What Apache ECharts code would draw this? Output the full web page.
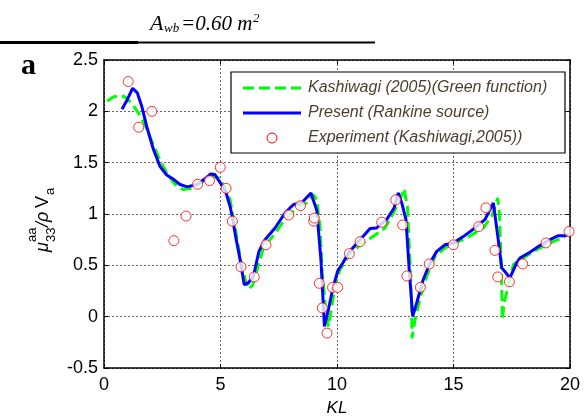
<!DOCTYPE html>
<html>
<head>
<meta charset="utf-8">
<script src="https://cdn.jsdelivr.net/npm/echarts@6/dist/echarts.min.js"></script>
<style>
  html, body { margin: 0; padding: 0; background: #fff; }
  #chart { width: 584px; height: 419px; }
</style>
</head>
<body>
<div id="chart"></div>
<script>
// Heave added mass vs KL
const kashiwagiKL = [0.14,0.40,0.69,0.90,1.19,1.47,1.76,2.05,2.33,2.69,3.05,3.40,3.83,4.26,4.62,4.91,5.19,5.41,5.55,5.74,5.94,6.19,6.37,6.55,6.84,7.34,7.77,8.34,8.70,8.98,9.13,9.27,9.37,9.53,9.63,9.77,9.91,10.13,10.49,10.99,11.56,12.06,12.42,12.70,12.88,13.02,13.13,13.20,13.22,13.35,13.59,13.85,14.21,14.64,14.99,15.57,16.28,16.64,16.90,16.97,17.04,17.10,17.17,17.35,17.57,18.00,18.57,19.14,19.79];
const kashiwagiMu = [2.10,2.14,2.154,2.14,2.08,1.985,1.87,1.71,1.56,1.40,1.287,1.238,1.254,1.319,1.374,1.352,1.27,1.14,0.962,0.718,0.458,0.27,0.302,0.44,0.67,0.81,0.952,1.075,1.108,1.19,1.14,0.88,0.426,0.036,-0.095,0.085,0.30,0.458,0.588,0.70,0.783,0.864,1.01,1.14,1.245,1.075,0.556,0.10,-0.21,-0.03,0.198,0.393,0.588,0.67,0.71,0.767,0.864,0.978,1.157,1.01,0.556,-0.03,0.133,0.295,0.507,0.572,0.653,0.718,0.777];

const presentKL = [0.77,0.97,1.23,1.43,1.62,1.83,2.12,2.40,2.69,3.00,3.26,3.58,3.98,4.29,4.58,4.76,5.03,5.24,5.41,5.50,5.65,5.84,6.02,6.19,6.41,6.65,6.91,7.34,7.77,8.12,8.51,8.88,9.13,9.31,9.46,9.63,9.84,10.04,10.27,10.49,10.99,11.42,11.70,12.13,12.45,12.63,12.78,12.96,13.10,13.25,13.42,13.70,13.99,14.28,14.64,14.99,15.42,15.92,16.35,16.71,16.92,17.07,17.31,17.42,17.71,17.85,18.28,18.71,19.14,19.50,19.79,19.93];
const presentMu = [2.02,2.10,2.225,2.18,2.05,1.855,1.63,1.465,1.38,1.335,1.287,1.264,1.287,1.335,1.39,1.384,1.29,1.205,1.075,0.98,0.78,0.556,0.312,0.328,0.393,0.636,0.75,0.864,1.01,1.09,1.114,1.205,1.04,0.556,-0.095,0.068,0.295,0.45,0.53,0.62,0.75,0.858,0.864,0.945,1.059,1.205,1.108,0.945,0.458,0.003,0.133,0.36,0.523,0.636,0.70,0.718,0.78,0.864,0.945,1.108,0.75,0.475,0.41,0.377,0.523,0.572,0.627,0.692,0.75,0.789,0.789,0.80];

const experimentKL = [1.04,1.49,2.05,3.00,3.52,4.02,4.53,4.99,5.24,5.51,5.88,6.45,6.95,7.93,8.43,9.00,9.03,9.24,9.37,9.57,9.81,10.03,10.53,10.99,11.92,12.52,12.82,13.00,13.58,13.96,14.99,16.08,16.39,16.78,16.90,17.40,17.97,18.97,19.96];
const experimentMu = [2.29,1.845,2.00,0.74,0.98,1.29,1.325,1.455,1.25,0.93,0.485,0.387,0.70,0.99,1.08,0.93,0.96,0.325,0.085,-0.16,0.285,0.285,0.614,0.73,0.92,1.137,0.893,0.396,0.286,0.513,0.70,0.877,1.06,0.646,0.387,0.34,0.513,0.718,0.83];

const xTicks = { min: 0, max: 20, step: 5 };
const yTicks = { min: -0.5, max: 2.5, step: 0.5 };

const seriesNames = [
  'Kashiwagi (2005)(Green function)',
  'Present (Rankine source)',
  'Experiment (Kashiwagi,2005))'
];

const GREEN = '#00ff00';
const BLUE = '#0000ff';
const RED = '#ff0000';

const zip = (xs, ys) => xs.map((x, i) => [x, ys[i]]);

const FONT = '"Liberation Sans", Arial, sans-serif';
const SERIF = '"Liberation Serif", "Times New Roman", serif';

const chart = echarts.init(document.getElementById('chart'), null, { renderer: 'canvas' });

const axisLineStyle = { show: true, onZero: false, lineStyle: { color: '#000', width: 1.5 } };
const tickStyle = { show: true, inside: true, length: 4, lineStyle: { color: '#000', width: 1 } };
const gridLineStyle = { show: true, lineStyle: { color: '#666', type: [2, 2], width: 1 } };

// legend key, drawn as a framed box in the upper right of the plot
const legendX = 243, legendY = 88, legendRow = 25;
const legendText = (i) => ({
  type: 'text', z: 11,
  style: { x: 308, y: legendY + i * legendRow, text: seriesNames[i], font: 'italic 16px ' + FONT, fill: '#4d3d2d', textVerticalAlign: 'middle' }
});

chart.setOption({
  animation: false,
  backgroundColor: '#fff',
  grid: { left: 104, right: 14, top: 60, bottom: 51, containLabel: false },
  xAxis: [
    {
      type: 'value', position: 'bottom',
      min: xTicks.min, max: xTicks.max, interval: xTicks.step,
      axisLine: axisLineStyle, axisTick: tickStyle,
      axisLabel: { color: '#000', fontSize: 18, fontFamily: FONT, margin: 8 },
      splitLine: gridLineStyle
    },
    {
      type: 'value', position: 'top',
      min: xTicks.min, max: xTicks.max, interval: xTicks.step,
      axisLine: axisLineStyle, axisTick: tickStyle,
      axisLabel: { show: false }, splitLine: { show: false }
    }
  ],
  yAxis: [
    {
      type: 'value', position: 'left',
      min: yTicks.min, max: yTicks.max, interval: yTicks.step,
      axisLine: axisLineStyle, axisTick: tickStyle,
      axisLabel: { color: '#000', fontSize: 18, fontFamily: FONT, margin: 6 },
      splitLine: gridLineStyle
    },
    {
      type: 'value', position: 'right',
      min: yTicks.min, max: yTicks.max, interval: yTicks.step,
      axisLine: axisLineStyle, axisTick: tickStyle,
      axisLabel: { show: false }, splitLine: { show: false }
    }
  ],
  series: [
    {
      name: seriesNames[0], type: 'line',
      data: zip(kashiwagiKL, kashiwagiMu),
      showSymbol: false, symbol: 'none', z: 2,
      lineStyle: { color: GREEN, width: 3, type: [11, 5] },
      itemStyle: { color: GREEN }
    },
    {
      name: seriesNames[1], type: 'line',
      data: zip(presentKL, presentMu),
      showSymbol: false, symbol: 'none', z: 3,
      lineStyle: { color: BLUE, width: 3 },
      itemStyle: { color: BLUE }
    },
    {
      name: seriesNames[2], type: 'scatter',
      data: zip(experimentKL, experimentMu),
      symbol: 'circle', symbolSize: 10, z: 4,
      itemStyle: { color: '#fff', borderColor: RED, borderWidth: 1 }
    }
  ],
  graphic: [
    // legend frame and keys
    {
      type: 'rect', z: 10,
      shape: { x: 231, y: 72, width: 334, height: 81 },
      style: { fill: '#fff', stroke: '#000', lineWidth: 1.2 }
    },
    {
      type: 'line', z: 11,
      shape: { x1: legendX, y1: legendY, x2: legendX + 58, y2: legendY },
      style: { stroke: GREEN, lineWidth: 3, lineDash: [11, 5] }
    },
    {
      type: 'line', z: 11,
      shape: { x1: legendX, y1: legendY + legendRow, x2: legendX + 58, y2: legendY + legendRow },
      style: { stroke: BLUE, lineWidth: 3 }
    },
    {
      type: 'circle', z: 11,
      shape: { cx: legendX + 29, cy: legendY + 2 * legendRow, r: 5 },
      style: { fill: '#fff', stroke: RED, lineWidth: 1 }
    },
    legendText(0), legendText(1), legendText(2),
    // heading rules
    { type: 'rect', shape: { x: 0, y: 41, width: 138, height: 3 }, style: { fill: '#000' } },
    { type: 'rect', shape: { x: 138, y: 41.5, width: 237, height: 2 }, style: { fill: '#000' } },
    // heading text A_wb = 0.60 m^2
    { type: 'text', style: { x: 150, y: 24, text: 'A', font: 'italic 22px ' + SERIF, fill: '#000', textVerticalAlign: 'middle' } },
    { type: 'text', style: { x: 164, y: 29, text: 'wb', font: 'italic 13px ' + SERIF, fill: '#000', textVerticalAlign: 'middle' } },
    { type: 'text', style: { x: 181, y: 24, text: '=0.60 m', font: 'italic 21px ' + SERIF, fill: '#000', textVerticalAlign: 'middle' } },
    { type: 'text', style: { x: 253, y: 19, text: '2', font: 'italic 13px ' + SERIF, fill: '#000', textVerticalAlign: 'middle' } },
    // panel letter
    { type: 'text', style: { x: 21, y: 66, text: 'a', font: 'bold 30px ' + SERIF, fill: '#000', textVerticalAlign: 'middle' } },
    // x axis title
    { type: 'text', style: { x: 337, y: 408, text: 'KL', font: 'italic 17px ' + FONT, fill: '#000', textAlign: 'center', textVerticalAlign: 'middle' } },
    // y axis title, rotated to read bottom-to-top
    {
      type: 'group', x: 49, y: 252, rotation: Math.PI / 2,
      children: [
        { type: 'text', style: { x: 0, y: -6, text: 'μ', font: 'italic 18px ' + FONT, fill: '#000', textVerticalAlign: 'middle' } },
        { type: 'text', style: { x: 10, y: 2, text: '33', font: '13px ' + FONT, fill: '#000', textVerticalAlign: 'middle' } },
        { type: 'text', style: { x: 10, y: -17, text: 'aa', font: '13px ' + FONT, fill: '#000', textVerticalAlign: 'middle' } },
        { type: 'text', style: { x: 25, y: -6, text: '/ρ', font: 'italic 18px ' + FONT, fill: '#000', textVerticalAlign: 'middle' } },
        { type: 'text', style: { x: 44, y: -6, text: 'V', font: '18px ' + FONT, fill: '#000', textVerticalAlign: 'middle' } },
        { type: 'text', style: { x: 57, y: 1, text: 'a', font: '13px ' + FONT, fill: '#000', textVerticalAlign: 'middle' } }
      ]
    }
  ]
});
</script>
</body>
</html>
